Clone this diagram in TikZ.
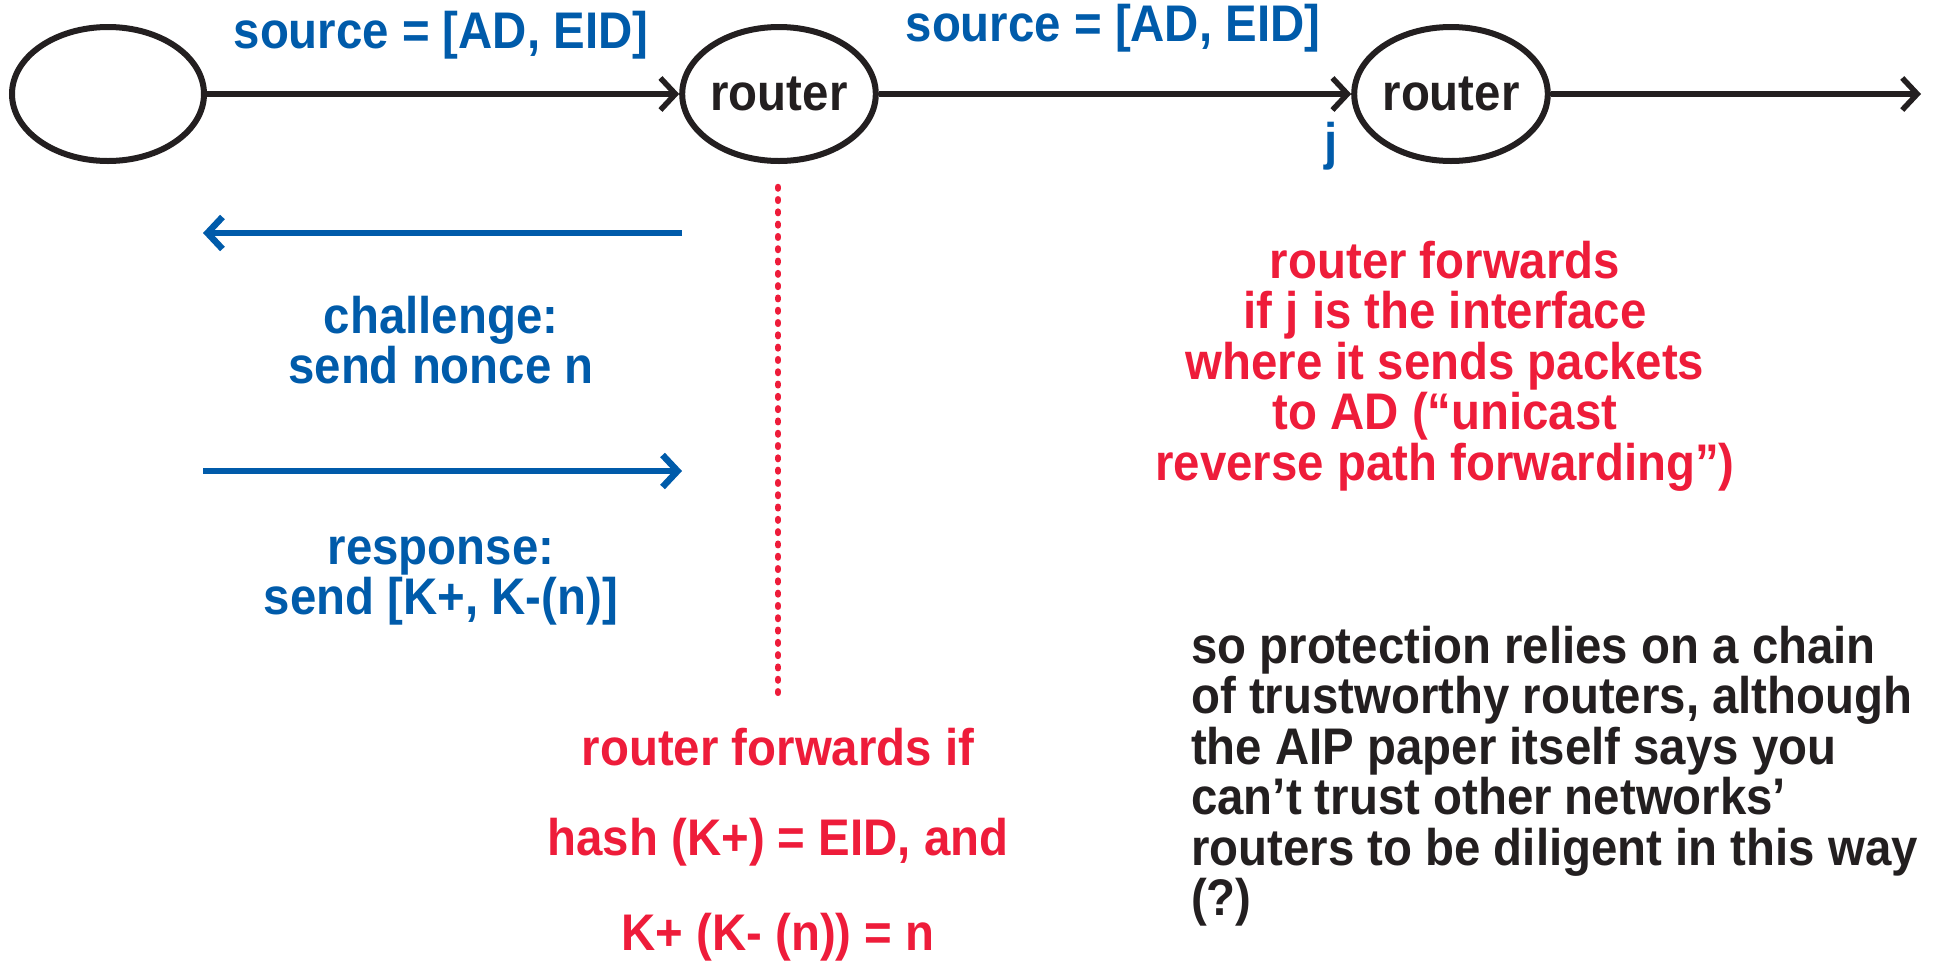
\documentclass[tikz,border=0pt]{standalone}
\usepackage{fontspec}
\setmainfont[FakeStretch=0.92]{Liberation Sans}
\usetikzlibrary{arrows.meta,shapes.geometric}
\definecolor{cblue}{HTML}{005BAA}
\definecolor{cred}{HTML}{EE1C3A}
\definecolor{cblack}{HTML}{231F20}
\tikzset{
  nd/.style={ellipse,draw=cblack,line width=6pt,minimum width=192pt,minimum height=134pt,inner sep=0pt,font=\fontsize{51.5}{50}\selectfont\bfseries,text=cblack},
  blk/.style={draw=cblack,line width=5.5pt,-{Straight Barb[length=15pt,width=32pt,line width=5.5pt]}},
  blu/.style={draw=cblue,line width=6.5pt,-{Straight Barb[length=15pt,width=32pt,line width=6.5pt]}},
  bt/.style={text=cblue,font=\fontsize{51.5}{50.5}\selectfont\bfseries,align=center,inner sep=0pt},
  rt/.style={text=cred,font=\fontsize{51.5}{50.5}\selectfont\bfseries,align=center,inner sep=0pt},
  kt/.style={text=cblack,font=\fontsize{51.5}{50.5}\selectfont\bfseries,align=left,inner sep=0pt},
}
\begin{document}
\begin{tikzpicture}[x=1pt,y=-1pt]
\useasboundingbox (0,0) rectangle (1933,962);
\node[nd] (h) at (108,94) {};
\node[nd] (r1) at (779,94) {router};
\node[nd] (r2) at (1451,94) {router};
\coordinate (end) at (1921,94);
\draw[blk] (h.east) -- (r1.west);
\draw[blk] (r1.east) -- (r2.west);
\draw[blk] (r2.east) -- (end);
\node[bt] (s1) at (441,35) {source = [AD, EID]};
\node[bt] (s2) at (1113,28) {source = [AD, EID]};
\node[bt] (j) at (1331,146) {j};
\coordinate (d1) at (778,187);
\coordinate (d2) at (778,703);
\draw[cred,line width=6.5pt,line cap=round,dash pattern=on 1.5pt off 10.8pt] (d1) -- (d2);
\coordinate (a1s) at (682,233);
\coordinate (a1e) at (203,233);
\coordinate (a2s) at (203,471);
\coordinate (a2e) at (682,471);
\draw[blu] (a1s) -- (a1e);
\draw[blu] (a2s) -- (a2e);
\node[bt] (ch) at (441,340) {challenge:\\send nonce n};
\node[bt] (rs) at (441,581) {response:\\send [K+, K-(n)]};
\node[rt] (f1) at (778,747) {router forwards if};
\node[rt] (f2) at (778,842) {hash (K+) = EID, and};
\node[rt] (f3) at (778,937) {K+ (K- (n)) = n};
\node[rt] (rp) at (1445,366) {router forwards\\if j is the interface\\where it sends packets\\to AD (“unicast\\reverse path forwarding”)};
\node[kt,anchor=west] (note) at (1191,776) {so protection relies on a chain\\of trustworthy routers, although\\the AIP paper itself says you\\can’t trust other networks’\\routers to be diligent in this way\\(?)};
\end{tikzpicture}
\end{document}
